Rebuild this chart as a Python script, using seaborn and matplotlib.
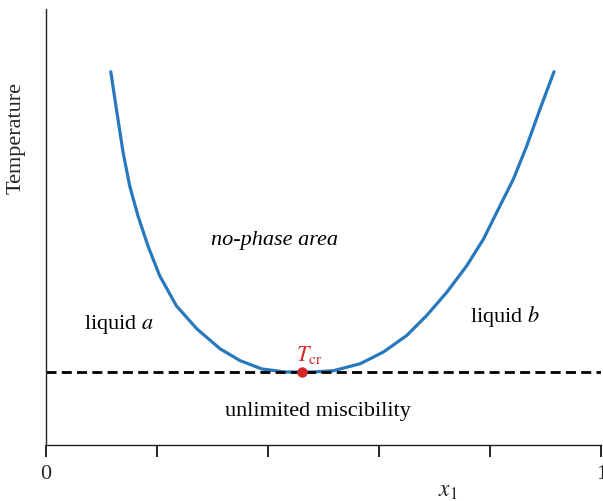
import numpy as np
import pandas as pd
import matplotlib
matplotlib.use("Agg")
import matplotlib.pyplot as plt
import seaborn as sns

# binodal curve (mole fraction, relative temperature)
x1 = [0.117, 0.127, 0.139, 0.151, 0.166, 0.184, 0.205, 0.235, 0.272, 0.314,
      0.350, 0.389, 0.431, 0.461, 0.481, 0.518, 0.566, 0.608, 0.650, 0.686,
      0.722, 0.758, 0.788, 0.818, 0.842, 0.866, 0.890, 0.915]
temp = [0.856, 0.771, 0.672, 0.594, 0.525, 0.456, 0.388, 0.319, 0.266, 0.220,
        0.193, 0.174, 0.167, 0.167, 0.167, 0.170, 0.186, 0.213, 0.251, 0.297,
        0.350, 0.411, 0.472, 0.549, 0.610, 0.686, 0.771, 0.856]
t_cr = 0.167
x_cr = 0.461
xticks = [0, 0.2, 0.4, 0.6, 0.8, 1.0]
xticklabels = ["0", "", "", "", "", "1"]

sns.set_style("white")
plt.rcParams['font.family'] = ['Liberation Serif', 'DejaVu Serif']
plt.rcParams['mathtext.fontset'] = 'stix'
plt.rcParams['text.color'] = 'black'

df = pd.DataFrame({"x1": x1, "T": temp})

fig, ax = plt.subplots(figsize=(6.03, 5.02), dpi=100)
fig.subplots_adjust(left=0.076, right=0.997, bottom=0.112, top=0.98)

sns.lineplot(data=df, x="x1", y="T", sort=False, color="#2878bd", linewidth=2.3, ax=ax)
ax.axhline(t_cr, color="black", linestyle=(0, (3.6, 1.9)), linewidth=2.0)
ax.plot([x_cr], [t_cr], "o", color="#d62728", markersize=6.5, zorder=5)

ax.text(x_cr + 0.013, t_cr + 0.016, r"$T_{\mathrm{cr}}$", color="#d62728", fontsize=16, ha="center", va="bottom")
ax.text(0.411, 0.472, "no-phase area", style="italic", fontsize=16, ha="center", va="center")
ax.text(0.131, 0.278, r"liquid $a$", fontsize=16, ha="center", va="center")
ax.text(0.827, 0.296, r"liquid $b$", fontsize=16, ha="center", va="center")
ax.text(0.49, 0.078, "unlimited miscibility", fontsize=16, ha="center", va="center")

ax.set_xlim(0, 1)
ax.set_ylim(0, 1)
ax.set_xticks(xticks)
ax.set_xticklabels(xticklabels, fontsize=16)
ax.set_yticks([])
ax.tick_params(axis="x", direction="out", length=8.5, width=1.2, color="black", bottom=True, pad=5)
ax.set_xlabel(r"$x_1$", fontsize=17)
ax.xaxis.set_label_coords(0.724, -0.08)
ax.set_ylabel("Temperature", fontsize=16)
ax.yaxis.set_label_coords(-0.036, 0.706)

sns.despine(ax=ax, top=True, right=True)
for s in ["left", "bottom"]:
    ax.spines[s].set_color("#222222")
    ax.spines[s].set_linewidth(1.0)

fig.savefig("out.png", dpi=100)
